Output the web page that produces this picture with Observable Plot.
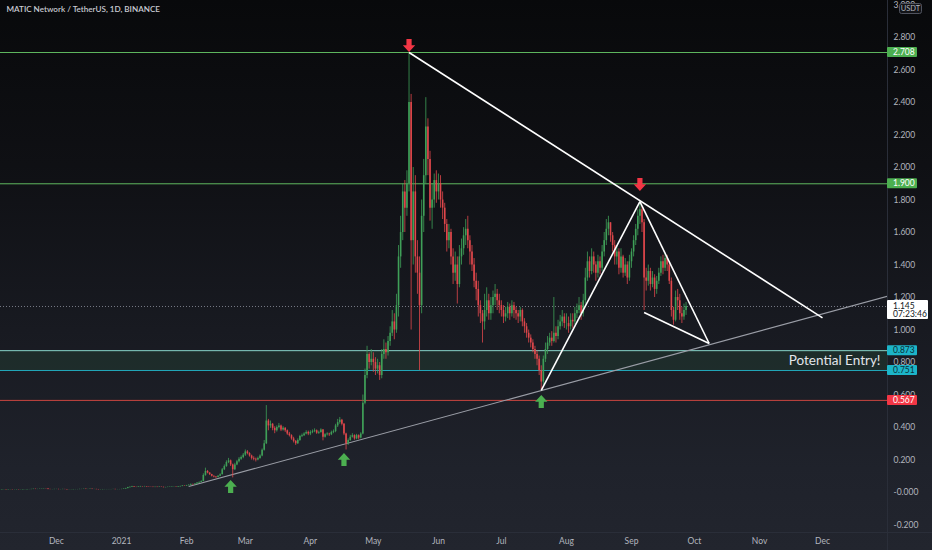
<!DOCTYPE html>
<html><head><meta charset="utf-8">
<script src="https://cdn.jsdelivr.net/npm/d3@7"></script>
<script src="https://cdn.jsdelivr.net/npm/@observablehq/plot@0.6"></script>
<style>
html,body{margin:0;padding:0;background:#131722;}
#chart{width:932px;height:550px;background:linear-gradient(to bottom,#08090b 0%,#0f1014 30%,#181a21 60%,#1f222b 85%,#22252e 100%);}
svg{display:block}
</style></head><body><div id="chart"></div>
<script>
// ---------- data ----------
const title = "MATIC Network / TetherUS, 1D, BINANCE";
const firstDay = "2020-11-04";
const firstOpen = 0.016;
// daily closes, one row per month (Nov 2020 .. Sep 2021)
const closes = [
 [0.016,0.017,0.017,0.016,0.017,0.017,0.016,0.016,0.017,0.016,0.016,0.017,0.017,0.018,0.018,0.019,0.020,0.019,0.019,0.020,0.021,0.022,0.021,0.019,0.018,0.018,0.019],
 [0.019,0.018,0.018,0.019,0.018,0.017,0.017,0.017,0.018,0.018,0.018,0.019,0.019,0.020,0.019,0.019,0.020,0.019,0.019,0.018,0.017,0.017,0.018,0.018,0.018,0.018,0.018,0.019,0.018,0.018,0.018],
 [0.019,0.021,0.024,0.030,0.032,0.036,0.033,0.032,0.034,0.036,0.035,0.036,0.034,0.033,0.032,0.031,0.032,0.031,0.033,0.032,0.030,0.031,0.032,0.033,0.034,0.034,0.033,0.035,0.037,0.040,0.039],
 [0.042,0.045,0.050,0.048,0.052,0.058,0.062,0.068,0.105,0.130,0.120,0.110,0.100,0.095,0.092,0.100,0.110,0.140,0.160,0.185,0.195,0.170,0.140,0.170,0.190,0.205,0.215,0.230],
 [0.250,0.240,0.225,0.210,0.205,0.200,0.210,0.225,0.260,0.300,0.440,0.410,0.420,0.395,0.380,0.400,0.410,0.385,0.395,0.380,0.360,0.350,0.330,0.315,0.300,0.320,0.345,0.350,0.360,0.370,0.360],
 [0.370,0.375,0.380,0.365,0.370,0.385,0.340,0.355,0.360,0.355,0.370,0.375,0.410,0.430,0.445,0.420,0.360,0.300,0.320,0.340,0.350,0.330,0.350,0.335,0.360,0.550,0.720,0.850,0.800,0.820],
 [0.80,0.76,0.78,0.72,0.85,0.88,0.86,0.93,0.98,1.05,1.00,1.15,1.45,1.60,1.85,1.75,1.90,2.40,1.55,1.85,1.45,1.35,1.15,1.70,1.95,2.25,2.05,1.75,1.80,1.92,1.85],
 [1.90,1.80,1.75,1.65,1.55,1.60,1.45,1.35,1.40,1.28,1.45,1.50,1.58,1.62,1.55,1.48,1.40,1.30,1.25,1.15,1.10,1.05,1.12,1.18,1.10,1.15,1.20,1.22,1.18,1.15],
 [1.12,1.08,1.10,1.14,1.10,1.15,1.12,1.10,1.08,1.12,1.05,1.02,0.98,0.95,0.92,0.88,0.85,0.82,0.75,0.68,0.82,0.88,0.92,0.95,0.93,0.98,0.96,1.02,1.05,1.08,1.04],
 [1.04,1.02,1.06,1.05,1.10,1.12,1.15,1.10,1.18,1.32,1.42,1.36,1.45,1.40,1.35,1.42,1.38,1.48,1.55,1.62,1.66,1.58,1.52,1.45,1.48,1.38,1.45,1.35,1.40,1.32,1.42],
 [1.48,1.55,1.62,1.70,1.74,1.66,1.32,1.30,1.36,1.28,1.32,1.25,1.30,1.35,1.42,1.38,1.44,1.40,1.30,1.12,1.06,1.20,1.18,1.10,1.08,1.12,1.145]
].flat();
const highs = [
 [0.017,0.018,0.018,0.017,0.018,0.018,0.017,0.017,0.018,0.017,0.017,0.018,0.018,0.019,0.019,0.020,0.021,0.021,0.020,0.021,0.022,0.024,0.023,0.022,0.020,0.019,0.020],
 [0.020,0.020,0.019,0.020,0.020,0.019,0.018,0.018,0.019,0.019,0.019,0.020,0.020,0.021,0.021,0.020,0.021,0.021,0.020,0.020,0.019,0.018,0.019,0.019,0.019,0.019,0.019,0.020,0.020,0.019,0.019],
 [0.020,0.022,0.026,0.032,0.034,0.038,0.037,0.034,0.036,0.038,0.037,0.038,0.037,0.035,0.034,0.033,0.033,0.033,0.034,0.034,0.033,0.032,0.033,0.034,0.035,0.036,0.035,0.036,0.039,0.042,0.041],
 [0.044,0.047,0.052,0.052,0.054,0.060,0.066,0.072,0.115,0.150,0.135,0.122,0.112,0.102,0.098,0.104,0.115,0.148,0.170,0.195,0.210,0.200,0.175,0.180,0.198,0.215,0.225,0.240],
 [0.262,0.258,0.245,0.230,0.220,0.212,0.218,0.232,0.268,0.320,0.535,0.450,0.440,0.425,0.405,0.410,0.425,0.415,0.405,0.400,0.385,0.370,0.355,0.340,0.320,0.330,0.352,0.360,0.368,0.380,0.378],
 [0.380,0.385,0.392,0.385,0.378,0.392,0.388,0.362,0.368,0.365,0.378,0.385,0.420,0.450,0.462,0.450,0.425,0.365,0.330,0.352,0.362,0.355,0.358,0.355,0.368,0.600,0.760,0.900,0.860,0.880],
 [0.86,0.83,0.82,0.80,0.88,0.94,0.92,0.96,1.02,1.12,1.10,1.22,1.52,1.70,1.90,1.92,1.98,2.70,2.45,2.00,1.95,1.55,1.45,1.80,2.05,2.43,2.30,2.10,1.90,1.96,1.98],
 [1.96,1.95,1.85,1.78,1.68,1.65,1.62,1.50,1.48,1.45,1.52,1.56,1.63,1.68,1.70,1.58,1.52,1.44,1.35,1.30,1.18,1.12,1.22,1.26,1.22,1.20,1.24,1.28,1.25,1.22],
 [1.18,1.15,1.14,1.17,1.16,1.18,1.17,1.14,1.12,1.14,1.13,1.07,1.04,1.00,0.97,0.94,0.90,0.87,0.84,0.78,0.84,0.92,0.96,0.98,0.99,1.20,1.02,1.06,1.09,1.12,1.10],
 [1.10,1.08,1.10,1.10,1.14,1.16,1.20,1.17,1.22,1.38,1.48,1.45,1.50,1.48,1.42,1.46,1.45,1.52,1.60,1.68,1.70,1.66,1.60,1.55,1.52,1.50,1.50,1.46,1.44,1.42,1.46],
 [1.50,1.58,1.65,1.74,1.79,1.76,1.68,1.38,1.40,1.38,1.36,1.34,1.33,1.38,1.45,1.46,1.47,1.46,1.42,1.32,1.14,1.24,1.25,1.22,1.14,1.16,1.17]
].flat();
const lows = [
 [0.015,0.016,0.016,0.015,0.016,0.016,0.015,0.015,0.016,0.015,0.015,0.016,0.016,0.017,0.017,0.018,0.018,0.018,0.018,0.019,0.020,0.020,0.020,0.017,0.017,0.017,0.018],
 [0.018,0.017,0.017,0.018,0.017,0.016,0.016,0.016,0.017,0.017,0.017,0.018,0.018,0.019,0.018,0.018,0.019,0.018,0.018,0.017,0.016,0.016,0.017,0.017,0.017,0.017,0.017,0.018,0.017,0.017,0.017],
 [0.018,0.019,0.021,0.024,0.029,0.031,0.032,0.030,0.031,0.033,0.034,0.034,0.033,0.032,0.031,0.030,0.030,0.030,0.031,0.031,0.029,0.029,0.030,0.031,0.032,0.033,0.032,0.032,0.034,0.036,0.037],
 [0.038,0.041,0.044,0.046,0.047,0.051,0.056,0.060,0.066,0.100,0.115,0.105,0.096,0.090,0.086,0.090,0.098,0.108,0.135,0.155,0.178,0.160,0.090,0.135,0.165,0.182,0.198,0.208],
 [0.222,0.232,0.218,0.200,0.195,0.188,0.195,0.205,0.220,0.255,0.295,0.380,0.395,0.380,0.362,0.372,0.392,0.375,0.378,0.370,0.352,0.342,0.322,0.305,0.290,0.296,0.315,0.338,0.345,0.355,0.350],
 [0.350,0.362,0.368,0.358,0.358,0.365,0.318,0.335,0.348,0.345,0.350,0.362,0.368,0.400,0.420,0.410,0.350,0.262,0.290,0.315,0.335,0.322,0.325,0.325,0.330,0.355,0.540,0.700,0.760,0.780],
 [0.74,0.72,0.73,0.69,0.70,0.82,0.82,0.84,0.90,0.96,0.94,0.98,1.08,1.38,1.55,1.60,1.70,1.85,1.00,1.40,1.35,1.22,0.75,1.10,1.60,1.90,1.95,1.67,1.62,1.75,1.78],
 [1.80,1.75,1.68,1.60,1.48,1.50,1.40,1.28,1.30,1.16,1.26,1.40,1.46,1.52,1.50,1.40,1.36,1.26,1.18,1.08,1.04,0.92,1.00,1.08,1.06,1.06,1.10,1.15,1.12,1.10],
 [1.08,1.04,1.05,1.07,1.06,1.08,1.07,1.06,1.04,1.05,1.02,0.98,0.95,0.92,0.89,0.86,0.82,0.78,0.72,0.63,0.66,0.80,0.85,0.90,0.90,0.92,0.92,0.94,1.00,1.02,1.01],
 [1.00,0.98,1.00,1.01,1.03,1.07,1.10,1.06,1.08,1.16,1.30,1.32,1.34,1.35,1.30,1.32,1.34,1.36,1.45,1.52,1.58,1.54,1.48,1.40,1.40,1.34,1.35,1.32,1.33,1.28,1.30],
 [1.38,1.45,1.52,1.58,1.65,1.60,1.12,1.24,1.27,1.24,1.26,1.20,1.22,1.28,1.33,1.34,1.36,1.36,1.28,1.08,1.03,1.05,1.12,1.06,1.04,1.06,1.09]
].flat();

const lastPrice = 1.145;
const lastTime = "07:23:46";
const levelPrices = [2.708, 1.900, 0.873, 0.751, 0.567];
const levelKinds  = ["res", "res", "entryTop", "entryBottom", "stop"];
const entryZone = [{lo: 0.751, hi: 0.873, label: "Potential Entry!"}];

// hand-drawn trend lines [start date, start price, end date, end price]
const whiteLines = [
  ["2021-05-18", 2.708, "2021-12-01", 1.075],
  ["2021-07-20", 0.628, "2021-09-05", 1.790],
  ["2021-09-05", 1.790, "2021-10-08", 0.917],
  ["2021-09-07", 1.108, "2021-10-08", 0.917]
];
const supportLine = [["2021-02-02", 0.037, "2022-01-01", 1.208]];
const downArrowsAt = [["2021-05-18", 2.751], ["2021-09-05", 1.895]];
const upArrowsAt   = [["2021-02-22", 0.037], ["2021-04-17", 0.203], ["2021-07-20", 0.560]];

const yTicks = [-0.2, 0, 0.2, 0.4, 0.6, 0.8, 1.0, 1.2, 1.4, 1.6, 1.8, 2.0, 2.2, 2.4, 2.6, 2.8, 3.0];
const monthTicks = ["2020-12-01","2021-01-01","2021-02-01","2021-03-01","2021-04-01","2021-05-01","2021-06-01","2021-07-01","2021-08-01","2021-09-01","2021-10-01","2021-11-01","2021-12-01"];
const monthNames = ["Jan","Feb","Mar","Apr","May","Jun","Jul","Aug","Sep","Oct","Nov","Dec"];

// ---------- build ----------
const DAY = 864e5;
const t0 = new Date(firstDay).getTime();
const candles = closes.map((c, i) => ({
  date: new Date(t0 + i * DAY),
  open: i ? closes[i - 1] : firstOpen,
  high: highs[i], low: lows[i], close: c
}));
const UP = "#3f9f58", DOWN = "#e0474b";
const candleColor = d => d.close >= d.open ? UP : DOWN;

const kindStyle = {
  res:         {line: "#5fb85f", bg: "#4caf50", fg: "#ffffff"},
  entryTop:    {line: "#86d2c8", bg: "#1cb5c9", fg: "#0d2f36"},
  entryBottom: {line: "#22a7ba", bg: "#1cb5c9", fg: "#0d2f36"},
  stop:        {line: "#c9453f", bg: "#f23645", fg: "#ffffff"}
};
const levels = levelPrices.map((p, i) => ({price: p, kind: levelKinds[i]}));
const toLink = a => ({x1: new Date(a[0]), y1: a[1], x2: new Date(a[2]), y2: a[3]});
const toPt = a => ({date: new Date(a[0]), price: a[1]});

const arrowDown = {draw(ctx, size) {
  const s = Math.sqrt(size / Math.PI);
  ctx.moveTo(-0.42*s, -1.05*s); ctx.lineTo(0.42*s, -1.05*s); ctx.lineTo(0.42*s, -0.05*s);
  ctx.lineTo(s, -0.05*s); ctx.lineTo(0, 1.05*s); ctx.lineTo(-s, -0.05*s); ctx.lineTo(-0.42*s, -0.05*s); ctx.closePath();
}};
const arrowUp = {draw(ctx, size) {
  const s = Math.sqrt(size / Math.PI);
  ctx.moveTo(-0.42*s, 1.05*s); ctx.lineTo(0.42*s, 1.05*s); ctx.lineTo(0.42*s, 0.05*s);
  ctx.lineTo(s, 0.05*s); ctx.lineTo(0, -1.05*s); ctx.lineTo(-s, 0.05*s); ctx.lineTo(-0.42*s, 0.05*s); ctx.closePath();
}};

const FONT = "Lato, 'Open Sans', 'DejaVu Sans', sans-serif";
const fmtY = d => (d <= 0 ? "-" : "") + Math.abs(d).toFixed(3);

function axisDecor(index, scales, values, dimensions) {
  const {width, height, marginRight, marginBottom} = dimensions;
  const xr = width - marginRight;
  const g = d3.create("svg:g").attr("font-family", FONT).attr("font-size", 8.5).attr("text-anchor", "start");
  g.append("line").attr("x1", xr + 0.5).attr("x2", xr + 0.5).attr("y1", 0).attr("y2", height).attr("stroke", "#2a2e39");
  g.append("line").attr("x1", 0).attr("x2", width).attr("y1", height - marginBottom + 0.5).attr("y2", height - marginBottom + 0.5).attr("stroke", "#2a2e39");
  for (const l of levels) {
    const st = kindStyle[l.kind], y = scales.y(l.price);
    g.append("rect").attr("x", xr).attr("y", y - 5).attr("width", 30).attr("height", 10).attr("fill", st.bg).attr("rx", 1);
    g.append("text").attr("x", xr + 6).attr("y", y).attr("dy", "0.35em").attr("fill", st.fg).text(l.price.toFixed(3));
  }
  const yp = scales.y(lastPrice);
  g.append("rect").attr("x", xr).attr("y", yp - 6).attr("width", 41).attr("height", 19).attr("fill", "#ffffff").attr("rx", 1);
  g.append("text").attr("x", xr + 6).attr("y", yp).attr("dy", "0.35em").attr("fill", "#131722").text(lastPrice.toFixed(3));
  g.append("text").attr("x", xr + 6).attr("y", yp + 8).attr("dy", "0.35em").attr("fill", "#131722").text(lastTime);
  g.append("rect").attr("x", xr + 12.5).attr("y", 3.5).attr("width", 22).attr("height", 10).attr("rx", 2)
    .attr("fill", "#131418").attr("stroke", "#50535e");
  g.append("text").attr("x", xr + 23.5).attr("y", 8.6).attr("dy", "0.35em").attr("text-anchor", "middle")
    .attr("fill", "#b2b5be").attr("font-size", 7.5).text("USDT");
  return g.node();
}

const chart = Plot.plot({
  width: 932, height: 550,
  marginTop: 0, marginRight: 45, marginBottom: 18, marginLeft: 0,
  x: {type: "utc", domain: [new Date(Date.UTC(2020, 10, 4, 8, 24)), new Date(Date.UTC(2021, 11, 31, 23, 17))], axis: null},
  y: {domain: [-0.246, 3.028], axis: null},
  style: {background: "transparent", color: "#b2b5be", fontFamily: FONT, fontSize: "8.5px", overflow: "visible"},
  marks: [
    Plot.rect(entryZone, {y1: "lo", y2: "hi", fill: "#2c6a45", fillOpacity: 0.22}),
    Plot.ruleY(levels, {y: "price", stroke: d => kindStyle[d.kind].line, strokeWidth: 1}),
    Plot.ruleY([lastPrice], {stroke: "#787b86", strokeDasharray: "1,2", strokeWidth: 1}),
    Plot.link(supportLine.map(toLink), {x1: "x1", y1: "y1", x2: "x2", y2: "y2", stroke: "#9a9da6", strokeWidth: 1.1, clip: true}),
    Plot.ruleX(candles, {x: "date", y1: "low", y2: "high", stroke: candleColor, strokeWidth: 0.8}),
    Plot.ruleX(candles, {x: "date", y1: "open", y2: "close", stroke: candleColor, strokeWidth: 1.6}),
    Plot.link(whiteLines.map(toLink), {x1: "x1", y1: "y1", x2: "x2", y2: "y2", stroke: "#ffffff", strokeWidth: 1.6}),
    Plot.dot(downArrowsAt.map(toPt), {x: "date", y: "price", symbol: arrowDown, r: 6.2, fill: "#f23645", stroke: "none"}),
    Plot.dot(upArrowsAt.map(toPt), {x: "date", y: "price", symbol: arrowUp, r: 6.2, fill: "#4caf50", stroke: "none"}),
    Plot.text(entryZone, {y: d => (d.lo + d.hi) / 2, text: "label", frameAnchor: "right", textAnchor: "end", dx: -7,
      fill: "#e3e5ea", fontSize: 13.5, fontFamily: FONT, style: {letterSpacing: "1.4px"}}),
    Plot.text([title], {text: d => d, frameAnchor: "top-left", textAnchor: "start", lineAnchor: "top", dx: 6, dy: 6,
      fill: "#c8cbd3", fontSize: 8.1, fontWeight: 600}),
    Plot.axisY(yTicks, {anchor: "right", tickSize: 0, tickPadding: 6, tickFormat: fmtY, fill: "#b2b5be"}),
    Plot.axisX(monthTicks.map(d => new Date(d)), {anchor: "bottom", tickSize: 0, tickPadding: 5,
      tickFormat: d => d.getUTCMonth() === 0 ? String(d.getUTCFullYear()) : monthNames[d.getUTCMonth()], fill: "#b2b5be"}),
    axisDecor
  ]
});
document.getElementById("chart").appendChild(chart);
</script></body></html>
